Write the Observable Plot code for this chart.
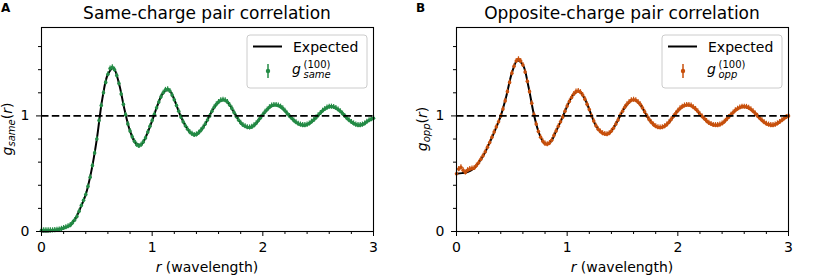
<!DOCTYPE html>
<html><head><meta charset="utf-8">
<script src="https://cdn.jsdelivr.net/npm/d3@7"></script>
<script src="https://cdn.jsdelivr.net/npm/@observablehq/plot@0.6"></script>
<style>
body{margin:0;background:#fff;}
#wrap{display:flex;width:830px;height:280px;}
.panel{width:415px;height:280px;}
svg{display:block}
</style></head><body><div id="wrap"><div class="panel" id="pA"></div><div class="panel" id="pB"></div></div>
<script>
// sampling grids (r in wavelengths)
const measuredStep = 0.02;   // measured points every 0.02
const expectedStep = 0.05;   // expected curve samples every 0.05
const rMeasured = d3.range(151).map(i => +(i * measuredStep).toFixed(2));
const rExpected = d3.range(61).map(i => +(i * expectedStep).toFixed(2));

// Same-charge: measured g_same^(100)
const gSameMeasured = [
  0.01,0.01,0.01,0.01,0.01,0.01,0.012,0.015,0.018,0.023,
  0.03,0.037,0.045,0.055,0.075,0.10,0.13,0.175,0.225,0.27,
  0.32,0.39,0.47,0.57,0.68,0.80,0.96,1.09,1.20,1.29,
  1.36,1.41,1.42,1.40,1.35,1.28,1.19,1.10,1.01,0.93,
  0.87,0.82,0.78,0.75,0.74,0.75,0.775,0.81,0.86,0.91,
  0.96,1.015,1.07,1.12,1.165,1.20,1.225,1.23,1.215,1.18,
  1.14,1.09,1.04,0.99,0.95,0.915,0.885,0.86,0.845,0.835,
  0.84,0.855,0.875,0.90,0.93,0.965,1.0,1.04,1.075,1.10,
  1.12,1.135,1.14,1.135,1.12,1.095,1.065,1.03,0.995,0.965,
  0.94,0.922,0.91,0.902,0.90,0.905,0.918,0.937,0.96,0.985,
  1.01,1.035,1.055,1.075,1.09,1.095,1.095,1.09,1.08,1.065,
  1.045,1.02,1.0,0.98,0.96,0.945,0.932,0.925,0.92,0.92,
  0.925,0.935,0.95,0.965,0.985,1.005,1.025,1.045,1.06,1.072,
  1.08,1.08,1.077,1.068,1.055,1.04,1.02,1.0,0.98,0.963,
  0.948,0.935,0.925,0.92,0.92,0.925,0.935,0.95,0.962,0.972,
  0.98
];
// Same-charge: expected curve
const gSameExpected = [
  0.0,0.0,0.005,0.015,0.03,0.05,0.10,0.20,0.32,0.52,
  0.80,1.15,1.36,1.415,1.28,1.055,0.87,0.765,0.75,0.835,
  0.96,1.095,1.20,1.225,1.14,1.015,0.915,0.852,0.84,0.888,
  0.965,1.058,1.12,1.138,1.095,1.012,0.94,0.905,0.905,0.948,
  1.01,1.065,1.095,1.085,1.045,0.99,0.945,0.922,0.925,0.957,
  1.005,1.052,1.08,1.073,1.04,0.99,0.948,0.922,0.925,0.956,
  0.98
];
// Opposite-charge: measured g_opp^(100)
const gOppMeasured = [
  0.50,0.54,0.555,0.53,0.51,0.53,0.54,0.545,0.55,0.57,
  0.595,0.625,0.655,0.69,0.73,0.77,0.815,0.86,0.905,0.95,
  1.00,1.06,1.13,1.21,1.29,1.37,1.43,1.475,1.49,1.475,
  1.44,1.38,1.30,1.21,1.11,1.01,0.93,0.865,0.815,0.78,
  0.76,0.755,0.765,0.79,0.83,0.87,0.91,0.95,0.99,1.04,
  1.085,1.125,1.16,1.19,1.21,1.215,1.205,1.18,1.145,1.10,
  1.055,1.0,0.955,0.915,0.885,0.865,0.85,0.843,0.842,0.85,
  0.87,0.895,0.93,0.965,1.005,1.04,1.075,1.10,1.12,1.135,
  1.14,1.135,1.12,1.10,1.07,1.035,1.0,0.97,0.945,0.925,
  0.91,0.902,0.90,0.902,0.91,0.925,0.945,0.97,0.995,1.02,
  1.045,1.065,1.08,1.09,1.095,1.095,1.09,1.075,1.06,1.04,
  1.015,0.995,0.975,0.955,0.94,0.93,0.922,0.92,0.92,0.925,
  0.935,0.95,0.97,0.99,1.01,1.03,1.048,1.062,1.073,1.08,
  1.08,1.078,1.07,1.058,1.04,1.02,1.0,0.98,0.962,0.945,
  0.932,0.925,0.92,0.92,0.925,0.935,0.948,0.962,0.978,0.99,
  1.0
];
// Opposite-charge: expected curve
const gOppExpected = [
  0.50,0.505,0.515,0.54,0.595,0.67,0.77,0.88,1.0,1.17,
  1.37,1.48,1.44,1.255,1.01,0.84,0.76,0.775,0.87,0.97,
  1.085,1.175,1.215,1.165,1.055,0.935,0.865,0.842,0.87,0.948,
  1.04,1.11,1.14,1.11,1.035,0.957,0.91,0.90,0.925,0.982,
  1.045,1.085,1.095,1.068,1.015,0.965,0.93,0.92,0.935,0.98,
  1.03,1.068,1.08,1.064,1.02,0.97,0.932,0.92,0.935,0.97,
  1.0
];
const errSame = 0.022, errOpp = 0.022;

const xMajor = [0, 1, 2, 3];
const xMinor = [0.2,0.4,0.6,0.8,1.2,1.4,1.6,1.8,2.2,2.4,2.6,2.8];
const yMajor = [0, 1];
const yMinor = [0.2,0.4,0.6,0.8,1.2,1.4,1.6];
const yMax = 1.765;

const panels = [
  {id:"#pA", letter:"A", title:"Same-charge pair correlation", sub:"same",
   color:"#238b45", meas:gSameMeasured, exp:gSameExpected, err:errSame},
  {id:"#pB", letter:"B", title:"Opposite-charge pair correlation", sub:"opp",
   color:"#c8500c", meas:gOppMeasured, exp:gOppExpected, err:errOpp}
];

for (const p of panels) {
  const meas = rMeasured.map((r, i) => ({r, g: p.meas[i]}));
  const expd = rExpected.map((r, i) => ({r, g: p.exp[i]}));
  const chart = Plot.plot({
    width: 415, height: 280,
    marginLeft: 41, marginRight: 42, marginTop: 27, marginBottom: 49,
    style: {fontFamily: "DejaVu Sans", fontSize: "14px", color: "black", background: "white", overflow: "visible"},
    x: {domain: [0, 3], label: null},
    y: {domain: [0, yMax], label: null},
    marks: [
      Plot.line(expd, {x: "r", y: "g", stroke: "black", strokeWidth: 2, curve: "catmull-rom"}),
      Plot.ruleX(meas, {x: "r", y1: d => d.g - p.err, y2: d => d.g + p.err, stroke: p.color, strokeWidth: 1.2}),
      Plot.dot(meas, {x: "r", y: "g", r: 1.8, fill: p.color, stroke: "none"}),
      Plot.ruleY([1], {stroke: "black", strokeWidth: 1.8, strokeDasharray: "7.5,3.3"}),
      Plot.axisX({ticks: xMajor, tickSize: 5, tickPadding: 6, label: null, tickFormat: d => String(d), fontSize: 14}),
      Plot.axisX({ticks: xMinor, tickSize: 3, label: null, tickFormat: () => ""}),
      Plot.axisY({ticks: yMajor, tickSize: 5, tickPadding: 7, label: null, tickFormat: d => String(d), fontSize: 14}),
      Plot.axisY({ticks: yMinor, tickSize: 3, label: null, tickFormat: () => ""}),
      Plot.frame({stroke: "black", strokeWidth: 1.1})
    ]
  });
  document.querySelector(p.id).appendChild(chart);
  const svg = d3.select(chart);
  const font = "DejaVu Sans";
  // panel letter
  svg.append("text").attr("x", 1).attr("y", 12).attr("text-anchor", "start").attr("font-family", font)
    .attr("font-weight", "bold").attr("font-size", 12).text(p.letter);
  // title
  svg.append("text").attr("x", 207).attr("y", 18.5).attr("text-anchor", "middle")
    .attr("font-family", font).attr("font-size", 17).text(p.title);
  // x label
  const xl = svg.append("text").attr("x", 207).attr("y", 272).attr("text-anchor", "middle")
    .attr("font-family", font).attr("font-size", 14);
  xl.append("tspan").attr("font-style", "italic").text("r");
  xl.append("tspan").text(" (wavelength)");
  // y label
  const yl = svg.append("text").attr("transform", "translate(12,129) rotate(-90)")
    .attr("text-anchor", "middle").attr("font-family", font).attr("font-size", 14);
  yl.append("tspan").attr("font-style", "italic").text("g");
  yl.append("tspan").attr("font-style", "italic").attr("font-size", 10).attr("dy", 3).text(p.sub);
  yl.append("tspan").attr("dy", -3).text("(");
  yl.append("tspan").attr("font-style", "italic").text("r");
  yl.append("tspan").text(")");
  // legend
  const lg = svg.append("g").attr("text-anchor", "start");
  lg.append("rect").attr("x", 247).attr("y", 35).attr("width", 120).attr("height", 53)
    .attr("rx", 3).attr("fill", "white").attr("fill-opacity", 0.8).attr("stroke", "#cccccc");
  lg.append("line").attr("x1", 253).attr("x2", 282).attr("y1", 46.5).attr("y2", 46.5)
    .attr("stroke", "black").attr("stroke-width", 2);
  lg.append("text").attr("x", 293).attr("y", 51.5).attr("text-anchor", "start")
    .attr("font-family", font).attr("font-size", 14).text("Expected");
  lg.append("line").attr("x1", 268).attr("x2", 268).attr("y1", 64).attr("y2", 78)
    .attr("stroke", p.color).attr("stroke-width", 1.5);
  lg.append("circle").attr("cx", 268).attr("cy", 71).attr("r", 2.2).attr("fill", p.color);
  const lt = lg.append("text").attr("text-anchor", "start").attr("font-family", font).attr("font-size", 14);
  lt.append("tspan").attr("x", 292).attr("y", 74).attr("font-style", "italic").text("g");
  lt.append("tspan").attr("x", 303.5).attr("y", 67.5).attr("font-size", 10).text("(100)");
  lt.append("tspan").attr("x", 303.5).attr("y", 77.5).attr("font-size", 10).attr("font-style", "italic").text(p.sub);
}
</script>
</body></html>
